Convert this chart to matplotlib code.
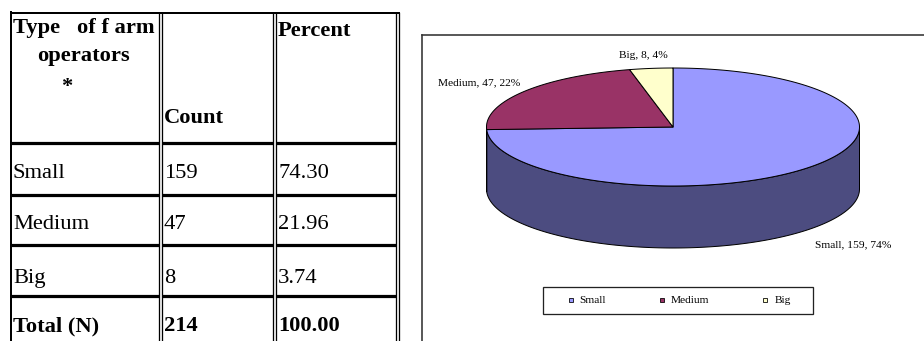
import numpy as np
import matplotlib
matplotlib.use("Agg")
import matplotlib.pyplot as plt
from matplotlib.patches import Polygon, Rectangle
from matplotlib.lines import Line2D

# ---- data ----
categories = ["Small", "Medium", "Big"]
counts = [159, 47, 8]
percents = ["74.30", "21.96", "3.74"]
total_label = "Total (N)"
total_count = 214
total_percent = "100.00"
header_col1 = ["Type   of f arm", "operators", "*"]
header_col2 = "Count"
header_col3 = "Percent"

top_colors = ["#9999FF", "#993366", "#FFFFCC"]
side_colors = ["#4C4C80", "#4D1A33", "#80806A"]

W, H = 924, 341
fig = plt.figure(figsize=(W / 100, H / 100), dpi=100)
ax = fig.add_axes([0, 0, 1, 1])
ax.set_xlim(0, W)
ax.set_ylim(H, 0)
ax.axis("off")

px = 0.72  # points per pixel at 100 dpi
serif = ["Liberation Serif", "DejaVu Serif"]

# ---- table ----
tfs = 16.2
col_x = [13, 164, 278]
row_lines = [143, 195, 245, 296]
vx_single_left = 10.5
doubles = [(158.5, 161.5), (273.0, 276.0), (395.8, 398.8)]
ax.plot([9.5, 399.8], [13, 13], color="black", lw=2 * px, solid_capstyle="butt")
ax.plot([vx_single_left, vx_single_left], [12, H], color="black", lw=2 * px)
for a_, b_ in doubles:
    for xx in (a_, b_):
        ax.plot([xx, xx], [13, H], color="black", lw=1.3 * px)
segs = [(vx_single_left, doubles[0][0]), (doubles[0][1], doubles[1][0]),
        (doubles[1][1], doubles[2][0])]
for y in row_lines:
    for s0, s1 in segs:
        ax.plot([s0, s1], [y, y], color="black", lw=3.2 * px, solid_capstyle="butt")

# header texts
ax.text(col_x[0], 33, header_col1[0], fontsize=tfs, fontweight="bold", family=serif, va="baseline")
ax.text(37, 61, header_col1[1], fontsize=tfs, fontweight="bold", family=serif, va="baseline")
ax.text(67, 92, header_col1[2], fontsize=tfs, fontweight="bold", family=serif, va="baseline", ha="center")
ax.text(col_x[1], 123, header_col2, fontsize=tfs, fontweight="bold", family=serif, va="baseline")
ax.text(col_x[2], 36, header_col3, fontsize=tfs, fontweight="bold", family=serif, va="baseline")

row_base = [178, 229, 283]
for i, cat in enumerate(categories):
    ax.text(col_x[0], row_base[i], cat, fontsize=tfs, family=serif, va="baseline")
    ax.text(col_x[1], row_base[i], str(counts[i]), fontsize=tfs, family=serif, va="baseline")
    ax.text(col_x[2], row_base[i], percents[i], fontsize=tfs, family=serif, va="baseline")
ax.text(col_x[0], 331, total_label, fontsize=tfs, fontweight="bold", family=serif, va="baseline")
ax.text(col_x[1], 331, str(total_count), fontsize=tfs, fontweight="bold", family=serif, va="baseline")
ax.text(col_x[2], 331, total_percent, fontsize=tfs, fontweight="bold", family=serif, va="baseline")

# ---- chart frame ----
ax.plot([422, W], [35, 35], color="#333333", lw=1.6 * px)
ax.plot([422, 422], [35, H], color="#333333", lw=1.6 * px)

# ---- 3D pie ----
cx, cy, ra, rb, depth = 673.0, 127.0, 186.5, 59.0, 62.0
total = float(sum(counts))
fracs = [c / total for c in counts]
starts, ends = [], []
cum = 0.0
for f in fracs:
    starts.append(90.0 - 360.0 * cum)
    cum += f
    ends.append(90.0 - 360.0 * cum)


def pt(theta_deg, dz=0.0):
    t = np.radians(theta_deg)
    return cx + ra * np.cos(t), cy - rb * np.sin(t) + dz

edge_kw = dict(edgecolor="black", linewidth=1.0 * px, joinstyle="round")

# side walls (front half: theta in [-180, 0])
for i in range(len(counts)):
    lo, hi = ends[i], starts[i]
    s0, s1 = max(lo, -180.0), min(hi, 0.0)
    if s1 > s0:
        th = np.linspace(s0, s1, 200)
        xs, ys = pt(th)
        xb, yb = pt(th[::-1], depth)
        poly = np.column_stack([np.r_[xs, xb], np.r_[ys, yb]])
        ax.add_patch(Polygon(poly, closed=True, facecolor=side_colors[i], **edge_kw))

# top faces
for i in range(len(counts)):
    th = np.linspace(starts[i], ends[i], 300)
    xs, ys = pt(th)
    poly = np.column_stack([np.r_[cx, xs], np.r_[cy, ys]])
    ax.add_patch(Polygon(poly, closed=True, facecolor=top_colors[i], **edge_kw))

# data labels
lfs = 8.2
label_pos = [(853, 245), (479, 83), (643, 55)]
for i, cat in enumerate(categories):
    pct = round(fracs[i] * 100)
    ax.text(label_pos[i][0], label_pos[i][1], f"{cat}, {counts[i]}, {pct}%",
            fontsize=lfs, family=serif, ha="center", va="center")

# legend
ax.add_patch(Rectangle((543, 287), 270, 27, facecolor="white", edgecolor="#222222", lw=1.3 * px))
handles = [Line2D([], [], marker="s", linestyle="none", markersize=5 * px,
                  markerfacecolor=c, markeredgecolor="black", markeredgewidth=0.8 * px)
           for c in top_colors]
leg = ax.legend(handles, categories, ncol=3, frameon=False, loc="center",
                bbox_to_anchor=(679 / W, 1 - 300.5 / H), bbox_transform=fig.transFigure,
                prop={"family": serif, "size": lfs}, handlelength=0.6, handletextpad=0.5,
                columnspacing=4.6, borderpad=0.2)

fig.savefig("out.png", dpi=100)
